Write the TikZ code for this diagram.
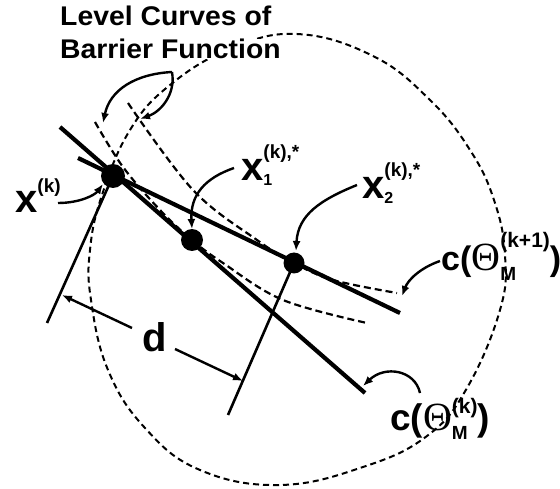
\documentclass[tikz,border=0pt]{standalone}
\usepackage{fontspec}
\setmainfont{Liberation Sans}
\newfontfamily\thfont{Liberation Serif}
\usepackage{graphicx}
\usetikzlibrary{arrows.meta}
\newcommand\fs[1]{\fontsize{#1}{#1}\selectfont}
\begin{document}
\begin{tikzpicture}[x=1pt,y=-1pt,
  thickline/.style={line width=4.2pt},
  dimline/.style={line width=2.6pt},
  levelcurve/.style={line width=2.2pt, dash pattern=on 7pt off 4pt},
  circdash/.style={line width=2pt, dash pattern=on 6pt off 4pt},
  ptr/.style={line width=2.4pt, -{Latex[length=10pt,width=8pt]}},
  dotnode/.style={circle, fill=black, inner sep=0pt},
  lbl/.style={anchor=base west, inner sep=0pt, font=\bfseries}]
\useasboundingbox (0,0) rectangle (560,489);

% big dashed circle
\draw[circdash] plot[smooth cycle, tension=0.7] coordinates {
  (297,34) (373,56) (430,100) (470,150) (494,200) (505,255)
  (500,310) (467,388) (427,436) (363,467) (280,485) (200,470) (145,428)
  (108,370) (91,300) (90,250) (102,195) (130,130) (170,85)
  (230,49)};

% level curves
\draw[levelcurve] plot[smooth, tension=0.6] coordinates {
  (128,103) (193,190) (257,240) (294,263) (333,280) (397,293)};
\draw[levelcurve] plot[smooth, tension=0.6] coordinates {
  (95,122) (123,167) (160,210) (192,240) (223,263) (283,300) (367,323)};

% points
\node[dotnode, minimum size=24pt] (xk) at (113,176) {};
\node[dotnode, minimum size=22pt] (x1) at (192,240) {};
\node[dotnode, minimum size=21pt] (x2) at (294,263) {};

% lines
\coordinate (Aa) at (60,127);
\coordinate (Ab) at (365,393);
\coordinate (Ba) at (78,158);
\coordinate (Bb) at (400,313);
\draw[thickline] (Aa) -- (Ab);
\draw[thickline] (Ba) -- (Bb);

% dimension lines
\coordinate (D1) at (47,323);
\coordinate (D2) at (228,415);
\draw[dimline] (xk.center) -- (D1);
\draw[dimline] (x2.center) -- (D2);

% title
\node[lbl, fill=white] (t1) at (60,26) {\fs{27}\scalebox{1.05}[1]{Level Curves of}};
\node[lbl, fill=white] (t2) at (60,59) {\fs{27}\scalebox{1.05}[1]{Barrier Function}};

% level curves arrows
\coordinate (lvs) at (172,72);
\coordinate (lv1) at (103,123);
\coordinate (lv2) at (140,119);
\draw[ptr] (lvs) .. controls (135,74) and (110,90) .. (lv1);
\draw[ptr] (lvs) .. controls (176,95) and (160,112) .. (lv2);

% labels
\node[lbl] (Lxk) at (15,213) {\fs{40}x\raisebox{20pt}{\fs{19}(k)}};
\node[lbl] (Lx1) at (241,181) {\fs{40}x\rlap{\raisebox{-5pt}{\fs{16}1}}\raisebox{22pt}{\fs{19}(k),*}};
\node[lbl] (Lx2) at (362,199) {\fs{40}x\rlap{\raisebox{-5pt}{\fs{16}2}}\raisebox{22pt}{\fs{19}(k),*}};
\node[lbl] (Lc1) at (441,271) {{\fs{34}c(}{\thfont\mdseries\fs{40}Θ}\rlap{\raisebox{-10pt}{\fs{19}M}}\raisebox{23pt}{\fs{21}(k+1)}{\fs{34})}};
\node[lbl] (Lc2) at (390,430) {{\fs{37}c(}{\thfont\mdseries\fs{40}Θ}\rlap{\raisebox{-9pt}{\fs{19}M}}\raisebox{17pt}{\fs{21}(k)}{\fs{37})}};
\node[lbl] (Ld) at (142,352) {\fs{40}d};

% label arrows
\coordinate (s0) at (58,203);
\coordinate (s1) at (234,168);
\coordinate (s2) at (357,185);
\coordinate (s3) at (440,261);
\coordinate (s4) at (420,393);
\coordinate (e0) at (103,184);
\coordinate (e1) at (192,229);
\coordinate (e2) at (296,251);
\coordinate (e3) at (402,296);
\coordinate (e4) at (363,386);
\draw[ptr] (s0) .. controls (80,203) and (95,195) .. (e0);
\draw[ptr] (s1) .. controls (205,178) and (190,195) .. (e1);
\draw[ptr] (s2) .. controls (320,200) and (298,215) .. (e2);
\draw[ptr] (s3) .. controls (420,268) and (408,280) .. (e3);
\draw[ptr] (s4) .. controls (415,370) and (385,365) .. (e4);

% d arrows
\coordinate (d1s) at (132,328);
\coordinate (d1e) at (62,295);
\coordinate (d2s) at (175,349);
\coordinate (d2e) at (243,381);
\draw[ptr] (d1s) -- (d1e);
\draw[ptr] (d2s) -- (d2e);
\end{tikzpicture}
\end{document}
